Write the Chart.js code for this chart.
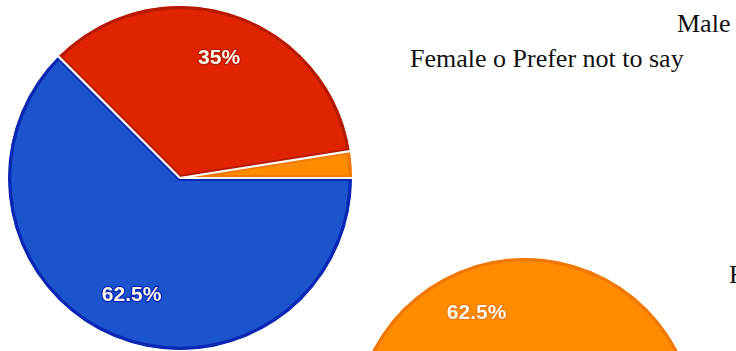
<!DOCTYPE html>
<html>
<head>
<meta charset="utf-8">
<script src="https://cdn.jsdelivr.net/npm/chart.js@4.4.1/dist/chart.umd.min.js"></script>
<style>
  html, body { margin: 0; padding: 0; width: 736px; height: 351px; overflow: hidden; background: #fff; }
  .pie { position: absolute; }
  .txt { position: absolute; font-family: "Liberation Serif", "Times New Roman", serif; font-size: 26px; line-height: 26px; color: #111; white-space: nowrap; }
</style>
</head>
<body>
<div class="pie" style="left:8px; top:6px;"><canvas id="pie1" width="344" height="344"></canvas></div>
<div class="pie" style="left:353px; top:258px;"><canvas id="pie2" width="344" height="344"></canvas></div>
<div class="txt" style="left:677px; top:11px;">Male</div>
<div class="txt" style="left:410px; top:46px;">Female o Prefer not to say</div>
<div class="txt" style="left:729px; top:262px;">Female</div>
<script>
// Gender responses (percent)
const genderLabels = ['Male', 'Female', 'Prefer not to say'];
const genderValues = [62.5, 35, 2.5];

// Second pie (percent)
const pie2Labels = ['Male', 'Female', 'Prefer not to say'];
const pie2Values = [25, 12.5, 62.5];

const sliceColors  = ['#1b54cc', '#e02300', '#ff8c00'];
const sliceBorders = ['#0a28b4', '#b81a00', '#f07800'];

// Percent labels placed along each slice's mid-angle, plus white separators
const pieDecor = {
  id: 'pieDecor',
  afterDatasetsDraw(chart) {
    const ctx = chart.ctx;
    const meta = chart.getDatasetMeta(0);
    const data = chart.data.datasets[0].data;
    const borders = chart.data.datasets[0].borderColor;
    ctx.save();
    // separators
    ctx.strokeStyle = '#ffffff';
    ctx.lineWidth = 2.2;
    meta.data.forEach((arc) => {
      const {x, y, startAngle, outerRadius} = arc.getProps(['x', 'y', 'startAngle', 'outerRadius'], true);
      ctx.beginPath();
      ctx.moveTo(x, y);
      ctx.lineTo(x + Math.cos(startAngle) * outerRadius, y + Math.sin(startAngle) * outerRadius);
      ctx.stroke();
    });
    // labels
    ctx.font = 'bold 21px "Liberation Sans", Arial, sans-serif';
    ctx.textAlign = 'center';
    ctx.textBaseline = 'middle';
    meta.data.forEach((arc, i) => {
      const v = data[i];
      if (v < 5) return;
      const {x, y, startAngle, endAngle, outerRadius} = arc.getProps(['x', 'y', 'startAngle', 'endAngle', 'outerRadius'], true);
      const mid = (startAngle + endAngle) / 2;
      const d = outerRadius * 0.735;
      const lx = x + Math.cos(mid) * d;
      const ly = y + Math.sin(mid) * d;
      const txt = v + '%';
      ctx.lineJoin = 'round';
      ctx.lineWidth = 2.5;
      ctx.strokeStyle = borders[i];
      ctx.strokeText(txt, lx, ly);
      ctx.fillStyle = '#fbf6ee';
      ctx.fillText(txt, lx, ly);
    });
    ctx.restore();
  }
};

function makePie(id, labels, values) {
  return new Chart(document.getElementById(id), {
    type: 'pie',
    data: {
      labels: labels,
      datasets: [{
        data: values,
        backgroundColor: sliceColors,
        borderColor: sliceBorders,
        borderWidth: 3,
        borderAlign: 'inner'
      }]
    },
    options: {
      responsive: false,
      animation: false,
      events: [],
      rotation: 90,
      layout: { padding: 0 },
      plugins: { legend: { display: false }, tooltip: { enabled: false } }
    },
    plugins: [pieDecor]
  });
}

makePie('pie1', genderLabels, genderValues);
makePie('pie2', pie2Labels, pie2Values);
</script>
</body>
</html>
